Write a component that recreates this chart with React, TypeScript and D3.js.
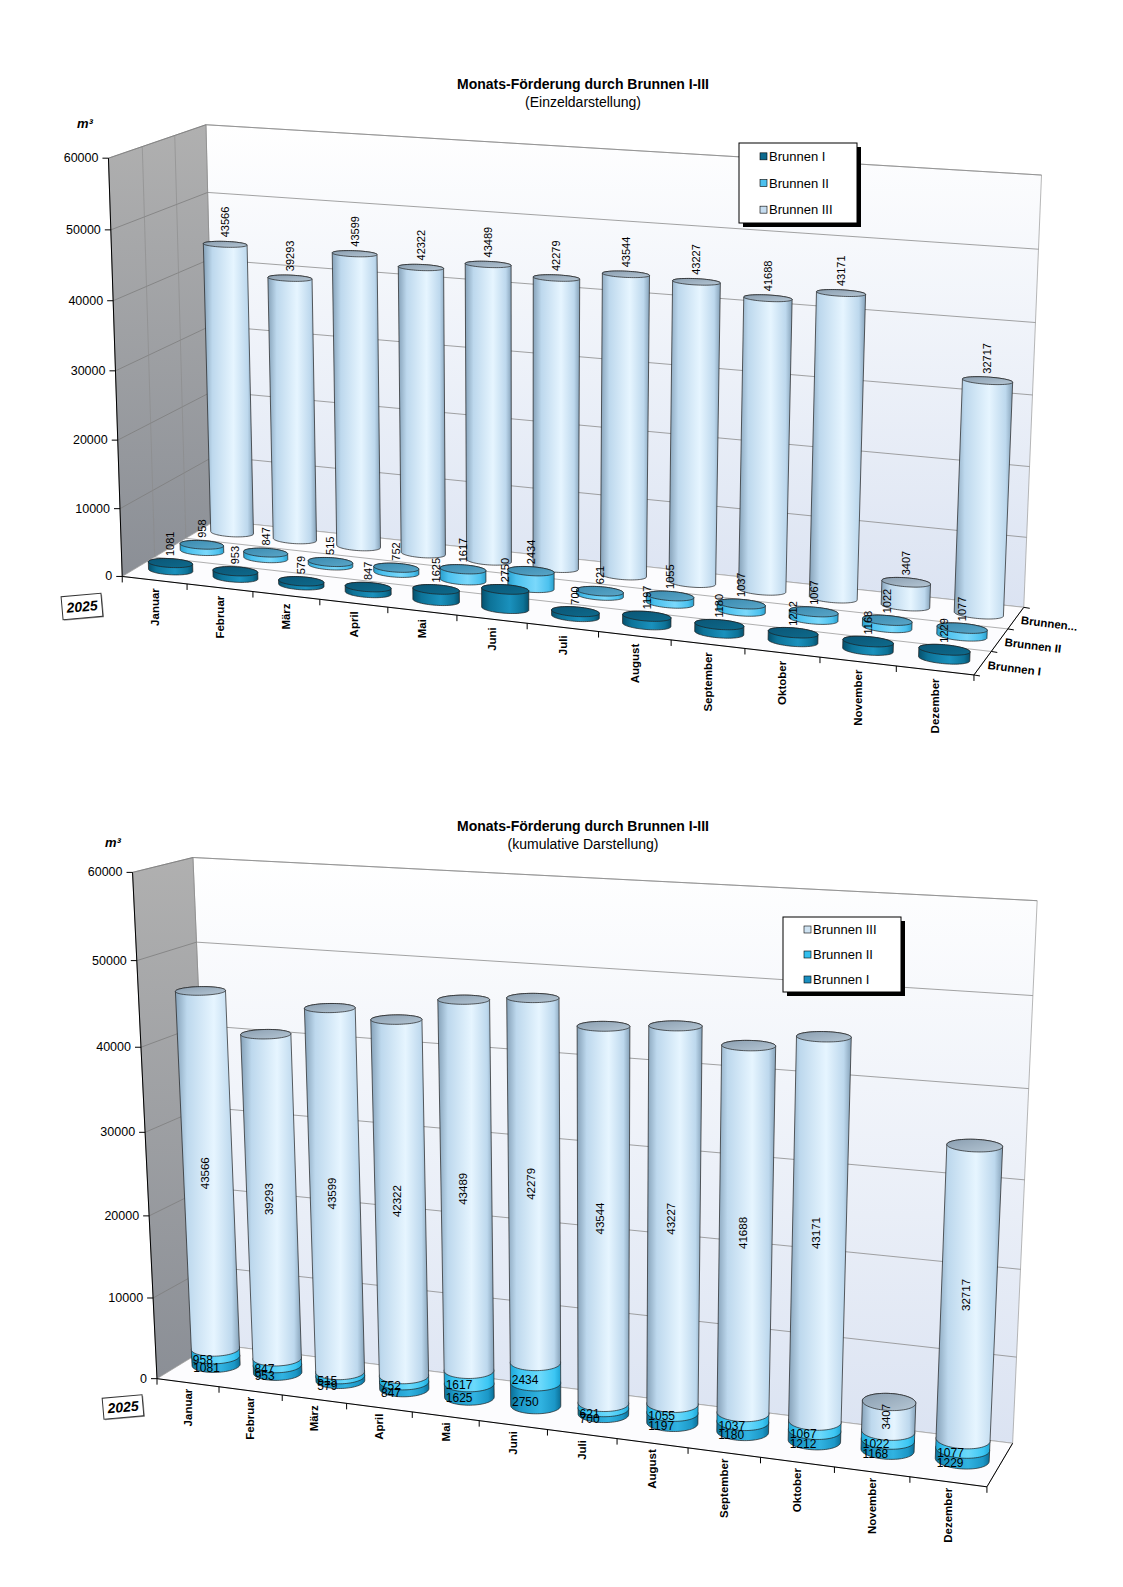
import * as d3 from 'd3';

// ---- chart data ----
const months = ['Januar', 'Februar', 'März', 'April', 'Mai', 'Juni', 'Juli', 'August', 'September', 'Oktober', 'November', 'Dezember'];
const brunnenI = [1081, 953, 579, 847, 1625, 2750, 700, 1197, 1180, 1212, 1168, 1229];
const brunnenII = [958, 847, 515, 752, 1617, 2434, 621, 1055, 1037, 1067, 1022, 1077];
const brunnenIII = [43566, 39293, 43599, 42322, 43489, 42279, 43544, 43227, 41688, 43171, 3407, 32717];
const seriesNames = ['Brunnen I', 'Brunnen II', 'Brunnen III'];
const depthAxisLabels = ['Brunnen I', 'Brunnen II', 'Brunnen...'];
const valueTicks = [0, 10000, 20000, 30000, 40000, 50000, 60000];
const yearLabel = '2025';

const FONT = '"Liberation Sans", Arial, sans-serif';

type V2 = [number, number];
type V3 = [number, number, number];
type Ref = [V3, V2];
type Proj = (p: V3) => V2;

// world units: x = category (0..12), y = value / 10000 (0..6), z = depth
const value = d3.scaleLinear().domain([0, 60000]).range([0, 6]);
const xBand = d3.scaleBand<string>().domain(months).range([0, 12]);
const xc = (m: string) => xBand(m)! + xBand.bandwidth() / 2;

// ---- layout: where the plot box sits on the page (used to fit the perspective camera) ----
const frontEdge1: V2[] = [[123, 575], [121, 506.7], [117.3, 438.3], [115, 371.7], [112.7, 301.7], [110, 230.7], [106.7, 159.3]];
const backEdge1: V2[] = [[1023.3, 603.3], [1026.7, 536.7], [1030, 465], [1032.7, 395], [1035, 323], [1038, 250], [1041.7, 175]];
const axisX1 = [123, 187, 253, 321, 388, 457, 527, 598, 672, 745, 820, 895, 975];
const refs1: Ref[] = [
  ...frontEdge1.map((p, k) => [[0, k, 0], p] as Ref),
  ...backEdge1.map((p, k) => [[12, k, 3], p] as Ref),
  ...axisX1.map((x, k) => [[k, 0, 0], [x, 575 + ((x - 123) * 102) / 852]] as Ref),
  [[0, 6, 3], [207, 123]],
  [[0, 5, 3], [210, 192]],
  [[0, 0, 3], [213, 527]],
];

const frontEdge2: V2[] = [[157.7, 1379], [152.7, 1296.5], [147.3, 1214.2], [145, 1131.9], [140, 1047.7], [137.3, 960.8], [133.3, 872.4]];
const backEdge2: V2[] = [[1011.7, 1442.4], [1016.7, 1358.2], [1021.7, 1267.7], [1025, 1179.3], [1028.3, 1088.8], [1033.3, 996.2], [1036.7, 900.7]];
const axisX2 = [158, 219, 283, 347, 413, 479, 547, 617, 688, 760, 834, 910, 987];
const refs2: Ref[] = [
  ...frontEdge2.map((p, k) => [[0, k, 0], p] as Ref),
  ...backEdge2.map((p, k) => [[12, k, 1], p] as Ref),
  ...axisX2.map((x, k) => [[k, 0, 0], [x, 1379 + ((x - 158) * 108) / 829]] as Ref),
  [[0, 6, 1], [193, 857]],
  [[0, 5, 1], [198, 942]],
  [[0, 4, 1], [198, 1027]],
];

// least-squares DLT: 3x4 projective camera from point pairs
function fitProjection(refs: Ref[]): Proj {
  const cu = d3.mean(refs, r => r[1][0])!;
  const cv = d3.mean(refs, r => r[1][1])!;
  const k = 400;
  const n = 11;
  const M = Array.from({ length: n }, () => new Array(n + 1).fill(0));
  const add = (row: number[], b: number) => {
    for (let i = 0; i < n; i++) {
      for (let j = 0; j < n; j++) M[i][j] += row[i] * row[j];
      M[i][n] += row[i] * b;
    }
  };
  refs.forEach(([[X, Y, Z], [u0, v0]]) => {
    const u = (u0 - cu) / k, v = (v0 - cv) / k;
    add([X, Y, Z, 1, 0, 0, 0, 0, -u * X, -u * Y, -u * Z], u);
    add([0, 0, 0, 0, X, Y, Z, 1, -v * X, -v * Y, -v * Z], v);
  });
  for (let c = 0; c < n; c++) {
    let p = c;
    for (let r = c + 1; r < n; r++) if (Math.abs(M[r][c]) > Math.abs(M[p][c])) p = r;
    [M[c], M[p]] = [M[p], M[c]];
    for (let r = 0; r < n; r++) {
      if (r === c) continue;
      const f = M[r][c] / M[c][c];
      for (let j = c; j <= n; j++) M[r][j] -= f * M[c][j];
    }
  }
  const h = M.map((row, i) => row[n] / row[i]);
  return ([X, Y, Z]) => {
    const w = h[8] * X + h[9] * Y + h[10] * Z + 1;
    return [cu + (k * (h[0] * X + h[1] * Y + h[2] * Z + h[3])) / w, cv + (k * (h[4] * X + h[5] * Y + h[6] * Z + h[7])) / w];
  };
}

const toPath = (pts: V2[]) => 'M' + pts.map(p => `${p[0].toFixed(2)},${p[1].toFixed(2)}`).join('L') + 'Z';

// cylinder with elliptic cross-section (rx along categories, rz along depth)
function cylinder(proj: Proj, x: number, z: number, rx: number, rz: number, y0: number, y1: number) {
  const ring = (y: number) =>
    d3.range(72).map(i => {
      const a = (i / 72) * 2 * Math.PI;
      return proj([x + rx * Math.cos(a), y, z + rz * Math.sin(a)]);
    });
  const top = ring(y1);
  const hull = d3.polygonHull([...top, ...ring(y0)]) as V2[];
  return { body: toPath(hull), top: toPath(top), left: d3.min(hull, p => p[0])! };
}

function SideGradient({ id, edge, mid, light }: { id: string; edge: string; mid: string; light: string }) {
  return (
    <linearGradient id={id} x1="0" y1="0" x2="1" y2="0">
      <stop offset="0" stopColor={edge} />
      <stop offset="0.18" stopColor={mid} />
      <stop offset="0.6" stopColor={light} />
      <stop offset="0.88" stopColor={mid} />
      <stop offset="1" stopColor={edge} />
    </linearGradient>
  );
}

function TopGradient({ id, a, b }: { id: string; a: string; b: string }) {
  return (
    <linearGradient id={id} x1="0" y1="0" x2="1" y2="1">
      <stop offset="0" stopColor={a} />
      <stop offset="1" stopColor={b} />
    </linearGradient>
  );
}

function Defs() {
  return (
    <defs>
      <linearGradient id="backWall" x1="0" y1="0" x2="0" y2="1">
        <stop offset="0" stopColor="#ffffff" />
        <stop offset="1" stopColor="#dbe3f2" />
      </linearGradient>
      <linearGradient id="leftWall" x1="0" y1="0" x2="0" y2="1">
        <stop offset="0" stopColor="#b0b0b0" />
        <stop offset="1" stopColor="#8b8f96" />
      </linearGradient>
      <SideGradient id="e1Side" edge="#06506c" mid="#0d7398" light="#1a91bd" />
      <TopGradient id="e1Top" a="#0a5676" b="#0e6a8c" />
      <SideGradient id="e2Side" edge="#2a9fcc" mid="#4cc1ee" light="#7ad8fb" />
      <TopGradient id="e2Top" a="#3b8bb0" b="#5aa6c8" />
      <SideGradient id="e3Side" edge="#86a2b9" mid="#bdd8ed" light="#e6f5ff" />
      <TopGradient id="e3Top" a="#8a9eb0" b="#b5c6d4" />
      <SideGradient id="k1Side" edge="#0b6f97" mid="#1b97c7" light="#31b3e1" />
      <SideGradient id="k2Side" edge="#1ea6d6" mid="#3cc6f3" light="#6cd9fb" />
    </defs>
  );
}

// walls, gridlines, value axis and category axis
function Box({ proj, D, zLines, catOffset }: { proj: Proj; D: number; zLines: number[]; catOffset: number }) {
  const P = (x: number, y: number, z: number) => proj([x, y, z]);
  const seg = (a: V2, b: V2, stroke: string, w: number, key: string) => (
    <line key={key} x1={a[0]} y1={a[1]} x2={b[0]} y2={b[1]} stroke={stroke} strokeWidth={w} />
  );
  return (
    <g>
      <path d={toPath([P(0, 0, D), P(0, 6, D), P(12, 6, D), P(12, 0, D)])} fill="url(#backWall)" stroke="#a5a5a5" strokeWidth={0.8} />
      <path d={toPath([P(0, 0, 0), P(0, 6, 0), P(0, 6, D), P(0, 0, D)])} fill="url(#leftWall)" stroke="#8a8a8a" strokeWidth={0.8} />
      <path d={toPath([P(0, 0, 0), P(12, 0, 0), P(12, 0, D), P(0, 0, D)])} fill="#fcfcfe" stroke="#a5a5a5" strokeWidth={0.8} />
      {valueTicks.slice(1).map(v => (
        <g key={v}>
          {seg(P(0, value(v), 0), P(0, value(v), D), '#7e7e7e', 0.8, 'l')}
          {seg(P(0, value(v), D), P(12, value(v), D), '#8c8c8c', 0.8, 'b')}
        </g>
      ))}
      {zLines.map(z => (
        <g key={'z' + z}>
          {seg(P(0, 0, z), P(0, 6, z), '#8a8a8a', 0.6, 'w')}
          {seg(P(0, 0, z), P(12, 0, z), '#9a9a9a', 0.8, 'f')}
        </g>
      ))}
      {seg(P(0, 0, 0), P(0, 6, 0), '#000', 1, 'ya')}
      {seg(P(0, 0, 0), P(12, 0, 0), '#000', 1, 'xa')}
      {valueTicks.map(v => {
        const [x, y] = P(0, value(v), 0);
        return (
          <g key={'t' + v}>
            <line x1={x - 6} y1={y} x2={x} y2={y} stroke="#000" strokeWidth={1} />
            <text x={x - 10} y={y} textAnchor="end" dominantBaseline="central" fontSize={12.5}>{v}</text>
          </g>
        );
      })}
      {d3.range(13).map(k => {
        const [x, y] = P(k, 0, 0);
        return <line key={'xt' + k} x1={x} y1={y} x2={x} y2={y + 6} stroke="#000" strokeWidth={1} />;
      })}
      {months.map(m => {
        const [x, y] = P(xc(m), 0, 0);
        return (
          <text key={m} transform={`translate(${x},${y + catOffset}) rotate(-90)`} textAnchor="end" dominantBaseline="central" fontSize={11.5} fontWeight="bold">
            {m}
          </text>
        );
      })}
    </g>
  );
}

function Legend({ x, y, w, h, items }: { x: number; y: number; w: number; h: number; items: { name: string; color: string }[] }) {
  const step = h / items.length;
  return (
    <g>
      <rect x={x + 4} y={y + 4} width={w} height={h} fill="#000" />
      <rect x={x} y={y} width={w} height={h} fill="#fff" stroke="#000" strokeWidth={1} />
      {items.map((it, i) => {
        const cy = y + step * (i + 0.5);
        return (
          <g key={it.name}>
            <rect x={x + 21} y={cy - 3.5} width={7} height={7} fill={it.color} stroke="#000" strokeWidth={0.6} />
            <text x={x + 30} y={cy} dominantBaseline="central" fontSize={13}>{it.name}</text>
          </g>
        );
      })}
    </g>
  );
}

function YearBox({ x, y, h }: { x: number; y: number; h: number }) {
  return (
    <g transform={`translate(${x},${y}) rotate(-5)`}>
      <rect x={-19} y={-h / 2 + 1.2} width={40} height={h} fill="#9a9a9a" />
      <rect x={-20} y={-h / 2} width={40} height={h} fill="#fff" stroke="#333" strokeWidth={1} />
      <text x={0} y={0} textAnchor="middle" dominantBaseline="central" fontSize={14} fontWeight="bold" fontStyle="italic">{yearLabel}</text>
    </g>
  );
}

function Titles({ y, sub }: { y: number; sub: string }) {
  return (
    <g textAnchor="middle">
      <text x={583} y={y} fontSize={14} fontWeight="bold">Monats-Förderung durch Brunnen I-III</text>
      <text x={583} y={y + 18} fontSize={14}>{sub}</text>
    </g>
  );
}

function Einzel({ proj }: { proj: Proj }) {
  const D = 3;
  const zBand = d3.scaleBand<string>().domain(seriesNames).range([0, D]);
  const zc = (s: string) => zBand(s)! + zBand.bandwidth() / 2;
  const series = [
    { name: seriesNames[0], values: brunnenI, side: 'url(#e1Side)', top: 'url(#e1Top)' },
    { name: seriesNames[1], values: brunnenII, side: 'url(#e2Side)', top: 'url(#e2Top)' },
    { name: seriesNames[2], values: brunnenIII, side: 'url(#e3Side)', top: 'url(#e3Top)' },
  ];
  const rx = 0.33, rz = 0.2;
  const bars = series
    .slice()
    .reverse()
    .flatMap(s =>
      months.map((m, i) => ({
        key: s.name + m,
        s,
        v: s.values[i],
        c: cylinder(proj, xc(m), zc(s.name), rx, rz, 0, value(s.values[i])),
        lbl: proj([xc(m), value(s.values[i]), zc(s.name)]),
      })),
    );
  return (
    <g>
      <Titles y={89} sub="(Einzeldarstellung)" />
      <text x={77} y={128} fontSize={13} fontWeight="bold" fontStyle="italic">m³</text>
      <Box proj={proj} D={D} zLines={[1, 2]} catOffset={8} />
      {bars.map(b => (
        <g key={b.key}>
          <path d={b.c.body} fill={b.s.side} stroke="#1c1c1c" strokeWidth={0.7} />
          <path d={b.c.top} fill={b.s.top} stroke="#1c1c1c" strokeWidth={0.7} />
        </g>
      ))}
      {bars.map(b => (
        <text key={'l' + b.key} transform={`translate(${b.lbl[0]},${b.lbl[1] - 7}) rotate(-90)`} dominantBaseline="central" fontSize={11}>
          {b.v}
        </text>
      ))}
      <line x1={proj([12, 0, 0])[0]} y1={proj([12, 0, 0])[1]} x2={proj([12, 0, D])[0]} y2={proj([12, 0, D])[1]} stroke="#000" strokeWidth={1} />
      {d3.range(D + 1).map(z => {
        const [x, y] = proj([12, 0, z]);
        return <line key={'dt' + z} x1={x} y1={y} x2={x + 6} y2={y + 1} stroke="#000" strokeWidth={1} />;
      })}
      {seriesNames.map((s, i) => {
        const [x, y] = proj([12, 0, zc(s)]);
        return (
          <text key={'d' + s} transform={`translate(${x + 5},${y + 2}) rotate(7)`} dominantBaseline="central" fontSize={11.5} fontWeight="bold">
            {depthAxisLabels[i]}
          </text>
        );
      })}
      <YearBox x={82} y={606.5} h={23} />
      <Legend
        x={739}
        y={143}
        w={118}
        h={80}
        items={[
          { name: seriesNames[0], color: '#0d6a8e' },
          { name: seriesNames[1], color: '#4cc0ee' },
          { name: seriesNames[2], color: '#c6ddf0' },
        ]}
      />
    </g>
  );
}

function Kumulativ({ proj }: { proj: Proj }) {
  const D = 1;
  const z = 0.5;
  const rx = 0.35, rz = 0.2;
  const bars = months.map((m, i) => {
    const a = brunnenI[i], b = brunnenII[i], c = brunnenIII[i];
    const x = xc(m);
    const segs = [
      { v: a, lo: 0, hi: a, fill: 'url(#k1Side)' },
      { v: b, lo: a, hi: a + b, fill: 'url(#k2Side)' },
      { v: c, lo: a + b, hi: a + b + c, fill: 'url(#e3Side)' },
    ].map(s => ({ ...s, shape: cylinder(proj, x, z, rx, rz, value(s.lo), value(s.hi)) }));
    return { m, x, segs };
  });
  return (
    <g>
      <Titles y={831} sub="(kumulative Darstellung)" />
      <text x={105} y={847} fontSize={13} fontWeight="bold" fontStyle="italic">m³</text>
      <Box proj={proj} D={D} zLines={[]} catOffset={6} />
      <line x1={proj([12, 0, 0])[0]} y1={proj([12, 0, 0])[1]} x2={proj([12, 0, D])[0]} y2={proj([12, 0, D])[1]} stroke="#000" strokeWidth={1} />
      {bars.map(bar => (
        <g key={bar.m}>
          {bar.segs.map((s, j) => (
            <path key={j} d={s.shape.body} fill={s.fill} stroke="#1c1c1c" strokeWidth={0.7} />
          ))}
          <path d={bar.segs[2].shape.top} fill="url(#e3Top)" stroke="#1c1c1c" strokeWidth={0.7} />
        </g>
      ))}
      {bars.map(bar =>
        bar.segs.map((s, j) => {
          const mid = value((s.lo + s.hi) / 2);
          if (j === 2) {
            const [px, py] = proj([bar.x, mid, z]);
            return (
              <text key={bar.m + j} transform={`translate(${px - 3},${py}) rotate(-90)`} textAnchor="middle" dominantBaseline="central" fontSize={11.5}>
                {s.v}
              </text>
            );
          }
          const [, py] = proj([bar.x, mid, z - rz]);
          return (
            <text key={bar.m + j} x={s.shape.left + 1.5} y={py} dominantBaseline="central" fontSize={12}>
              {s.v}
            </text>
          );
        }),
      )}
      <YearBox x={123} y={1407} h={21} />
      <Legend
        x={783}
        y={917}
        w={118}
        h={75}
        items={[
          { name: seriesNames[2], color: '#cfe3f2' },
          { name: seriesNames[1], color: '#33bfee' },
          { name: seriesNames[0], color: '#1a8fc0' },
        ]}
      />
    </g>
  );
}

export default function App() {
  const proj1 = fitProjection(refs1);
  const proj2 = fitProjection(refs2);
  return (
    <svg
      width={1123}
      height={1587}
      viewBox="0 0 1123 1587"
      fontFamily={FONT}
      style={{ position: 'absolute', left: 0, top: 0, background: '#fff' }}
    >
      <Defs />
      <Einzel proj={proj1} />
      <Kumulativ proj={proj2} />
    </svg>
  );
}
